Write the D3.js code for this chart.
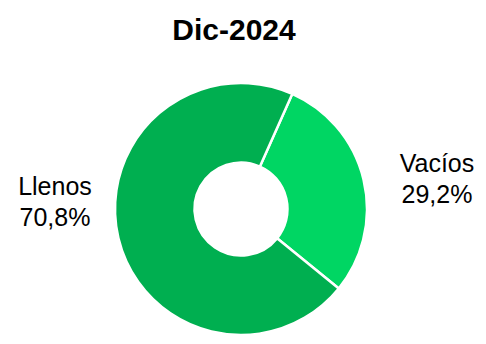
<!DOCTYPE html>
<html>
<head>
<meta charset="utf-8">
<script src="https://cdn.jsdelivr.net/npm/d3@7"></script>
<style>
html,body{margin:0;padding:0;background:#fff;}
text{font-family:"Liberation Sans",Arial,sans-serif;fill:#000;}
</style>
</head>
<body>
<svg id="chart" width="486" height="344"></svg>
<script>
const title = "Dic-2024";
const categories = ["Vacíos", "Llenos"];
const values = [29.2, 70.8];
const colors = ["#00d663", "#00af50"];

const svg = d3.select("#chart");
const cx = 241, cy = 209, outerR = 126, innerR = 46.5;

svg.append("text").attr("x", 234).attr("y", 40).attr("text-anchor", "middle")
  .attr("font-size", 30).attr("font-weight", "bold").text(title);

const start = 24 * Math.PI / 180;
const pie = d3.pie().sort(null).value(d => d)
  .startAngle(start).endAngle(start + 2 * Math.PI);
const arc = d3.arc().innerRadius(innerR).outerRadius(outerR);
const g = svg.append("g").attr("transform", `translate(${cx},${cy})`);
g.selectAll("path").data(pie(values)).join("path")
  .attr("d", arc).attr("fill", (d, i) => colors[i])
  .attr("stroke", "#fff").attr("stroke-width", 2.5);

const fmt = v => v.toFixed(1).replace(".", ",") + "%";
const labelPos = [[437, 172], [55, 195]];
categories.forEach((c, i) => {
  const t = svg.append("text").attr("x", labelPos[i][0]).attr("y", labelPos[i][1])
    .attr("text-anchor", "middle").attr("font-size", 25);
  t.append("tspan").attr("x", labelPos[i][0]).text(c);
  t.append("tspan").attr("x", labelPos[i][0]).attr("dy", 31).text(fmt(values[i]));
});
</script>
</body>
</html>
